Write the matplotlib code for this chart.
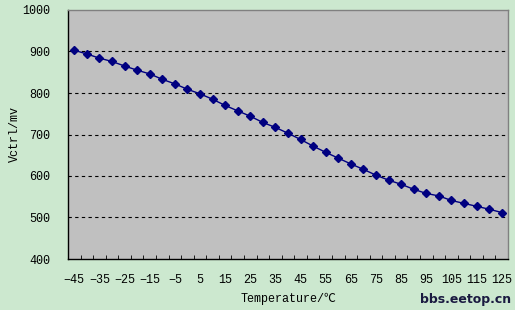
import matplotlib

matplotlib.use("Agg")
import matplotlib.pyplot as plt
import numpy as np

temps = list(range(-45, 130, 5))
vctrl = [903, 894, 884, 876, 865, 855, 846, 833, 822, 809,
         798, 785, 770, 757, 744, 729, 717, 703, 688, 672,
         657, 643, 629, 616, 602, 590, 580, 568, 558, 552,
         541, 534, 527, 520, 512]
y_ticks = [400, 500, 600, 700, 800, 900, 1000]

FONT = ["Liberation Mono", "Noto Sans CJK SC"]
plt.rcParams["font.family"] = FONT

fig = plt.figure(figsize=(5.15, 3.10), dpi=100, facecolor="#cce8cf")
ax = fig.add_axes([68 / 515, 1 - 259 / 310, 440 / 515, 249 / 310])
ax.set_facecolor("#c0c0c0")

x = np.arange(len(temps))
ax.plot(x, vctrl, color="#000080", linewidth=1.0, marker="D",
        markersize=4.5, markerfacecolor="#000080", markeredgecolor="#000080",
        zorder=3)

ax.set_xlim(-0.5, len(temps) - 0.5)
ax.set_ylim(400, 1000)
ax.set_yticks(y_ticks)
ax.set_yticklabels([str(v) for v in y_ticks])
for v in y_ticks[1:-1]:
    ax.axhline(v, color="black", linestyle=(0, (3, 3)), linewidth=0.8, zorder=1)

ax.set_xticks(x[::2])
ax.set_xticklabels([str(t).replace("-", "\u2212") for t in temps[::2]])
ax.set_xticks(np.arange(len(temps) + 1) - 0.5, minor=True)
ax.tick_params(axis="x", which="major", length=0, pad=11, labelsize=8.5)
ax.tick_params(axis="x", which="minor", direction="in", length=3, width=0.6)
ax.tick_params(axis="y", direction="out", length=0, pad=13, labelsize=8.5)

for side in ("left", "bottom"):
    ax.spines[side].set_color("black")
    ax.spines[side].set_linewidth(1.0)
for side in ("top", "right"):
    ax.spines[side].set_color("#808080")
    ax.spines[side].set_linewidth(1.0)

ax.set_xlabel("Temperature/℃", fontsize=8.5, labelpad=5)
ax.set_ylabel("Vctrl/mv", fontsize=8.5)
ax.yaxis.set_label_coords(-0.108, 0.5)

fig.text(0.993, 0.012, "bbs.eetop.cn", ha="right", va="bottom",
         fontsize=9, fontweight="bold", color="#1a1a40",
         family="DejaVu Sans")

fig.savefig("out.png", dpi=100, facecolor=fig.get_facecolor())
